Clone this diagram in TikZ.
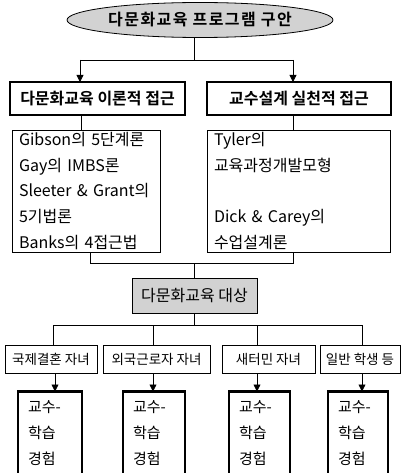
\documentclass[tikz,border=0pt]{standalone}
\usepackage{fontspec}
\newfontfamily\kr{Noto Sans CJK KR}[BoldFont={Noto Sans CJK KR Bold}]
\newfontfamily\krwide{Noto Sans CJK KR}[BoldFont={Noto Sans CJK KR Bold},LetterSpace=9]
\usetikzlibrary{arrows.meta,shapes.geometric}
\begin{document}
\begin{tikzpicture}[x=1pt,y=-1pt,
  every node/.style={inner sep=0pt,outer sep=0pt},
  conn/.style={line width=0.8pt},
  arr/.style={conn,-{Triangle[length=7pt,width=7pt]}},
  hbox/.style={draw,line width=2pt,font=\kr\bfseries\fontsize{16}{18}\selectfont},
  listbox/.style={draw,line width=0.8pt,inner xsep=7pt,align=left,font=\kr\fontsize{16}{25.8}\selectfont},
  grpbox/.style={draw,line width=0.8pt,minimum height=28,font=\kr\fontsize{13.5}{16}\selectfont},
  expbox/.style={draw,line width=2.2pt,inner xsep=10pt,minimum height=83,align=left,font=\kr\fontsize{15}{26}\selectfont}]
\useasboundingbox (0,0) rectangle (403,473);
\clip (0,0) rectangle (403,473);
\fill[white] (0,0) rectangle (403,473);

\node[ellipse,draw,line width=0.8pt,fill=gray!35,minimum width=266,minimum height=35,
  font=\krwide\bfseries\fontsize{16}{18}\selectfont] (title) at (200,20) {다문화교육 프로그램 구안};

\node[hbox,minimum width=175,minimum height=33] (h1) at (97.5,98.5) {다문화교육 이론적 접근};
\node[hbox,minimum width=184,minimum height=33] (h2) at (299,98.5) {교수설계 실천적 접근};

\node[listbox,text width=134,minimum height=122] (l1) at (86,191)
  {Gibson의 5단계론\\Gay의 IMBS론\\Sleeter \& Grant의\\5기법론\\Banks의 4접근법};
\node[listbox,text width=169,minimum height=122] (l2) at (298.5,191)
  {Tyler의\\교육과정개발모형\\[25.8pt]Dick \& Carey의\\수업설계론};

\node[draw,line width=0.8pt,fill=gray!35,minimum width=125,minimum height=35,
  font=\kr\fontsize{16}{18}\selectfont] (tg) at (194.5,295.5) {다문화교육 대상};

\node[grpbox,minimum width=92] (g1) at (51,359) {국제결혼 자녀};
\node[grpbox,minimum width=107] (g2) at (156.5,359) {외국근로자 자녀};
\node[grpbox,minimum width=93] (g3) at (268.5,359) {새터민 자녀};
\node[grpbox,minimum width=80] (g4) at (360,359) {일반 학생 등};

\node[expbox,text width=44] (e1) at (50,433) {교수-\\학습\\경험};
\node[expbox,text width=42] (e2) at (154,433) {교수-\\학습\\경험};
\node[expbox,text width=41] (e3) at (259.5,433) {교수-\\학습\\경험};
\node[expbox,text width=40] (e4) at (358,433) {교수-\\학습\\경험};

% top connectors
\coordinate (t1) at (194,60);
\coordinate (a1) at (80,60);
\coordinate (a2) at (293,60);
\draw[conn] (title.south -| t1) -- (t1);
\draw[conn] (a1) -- (a2);
\draw[arr] (a1) -- (a1 |- h1.north);
\draw[arr] (a2) -- (a2 |- h2.north);

% header to lists
\coordinate (b1) at (81,0);
\coordinate (b2) at (293,0);
\draw[conn] (h1.south -| b1) -- (l1.north -| b1);
\draw[conn] (h2.south -| b2) -- (l2.north -| b2);

% lists to target
\coordinate (c1) at (90,263);
\coordinate (c2) at (293,263);
\coordinate (c3) at (194,263);
\draw[conn] (l1.south -| c1) -- (c1) -- (c2) -- (l2.south -| c2);
\draw[conn] (c3) -- (tg.north -| c3);

% target to groups
\coordinate (d0) at (194,325);
\coordinate (d1) at (53,325);
\coordinate (d2) at (153,325);
\coordinate (d3) at (257,325);
\coordinate (d4) at (362,325);
\draw[conn] (tg.south -| d0) -- (d0);
\draw[conn] (d1) -- (d4);
\draw[conn] (d1) -- (g1.north -| d1);
\draw[conn] (d2) -- (g2.north -| d2);
\draw[conn] (d3) -- (g3.north -| d3);
\draw[conn] (d4) -- (g4.north -| d4);

% groups to experience
\coordinate (f1) at (55,0);
\coordinate (f2) at (153,0);
\coordinate (f3) at (257,0);
\coordinate (f4) at (362,0);
\draw[arr] (g1.south -| f1) -- (e1.north -| f1);
\draw[arr] (g2.south -| f2) -- (e2.north -| f2);
\draw[arr] (g3.south -| f3) -- (e3.north -| f3);
\draw[arr] (g4.south -| f4) -- (e4.north -| f4);
\end{tikzpicture}
\end{document}
